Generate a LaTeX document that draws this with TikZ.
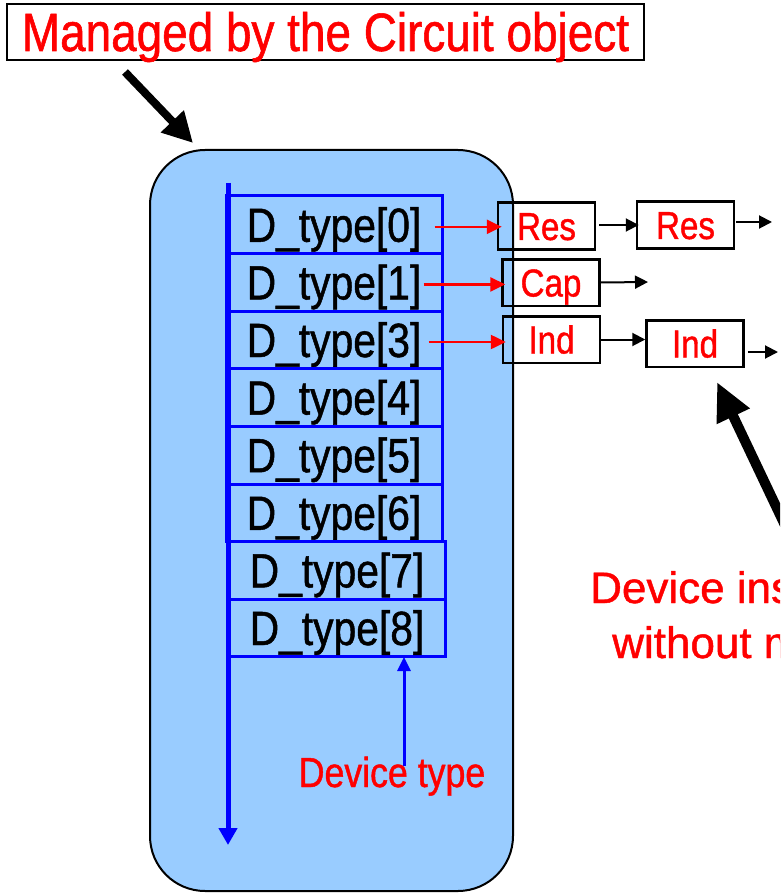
\documentclass[tikz,border=0pt]{standalone}
\usepackage{fontspec}
\setmainfont{Liberation Sans}[FakeStretch=0.85, FakeBold=1]
\newfontfamily\widefont{Liberation Sans}[FakeBold=1]
\usetikzlibrary{arrows.meta,calc}

\definecolor{panelblue}{HTML}{99CCFF}
\definecolor{pureblue}{HTML}{0000FF}
\definecolor{purered}{HTML}{FF0000}

\tikzset{
  dtype/.style={draw=pureblue, line width=3pt, minimum width=216pt, minimum height=57.6pt,
    inner sep=0pt, text height=34pt, text depth=0pt, font=\fontsize{48}{50}\selectfont},
  devbox/.style={draw=black, line width=2.5pt, minimum width=97pt, minimum height=46.5pt,
    inner sep=0pt, text=purered, text height=28pt, text depth=0pt, font=\fontsize{39}{40}\selectfont},
  redtext/.style={text=purered, inner sep=0pt},
  redarrow/.style={draw=purered, line width=2.5pt, -{Triangle[length=15pt,width=14pt]}},
  listarrow/.style={draw=black, line width=2pt, -{Triangle[length=13pt,width=13pt]}},
  bigarrow/.style={draw=black, line width=8pt, -{Triangle[length=30pt,width=30pt]}},
  bluearrow/.style={draw=pureblue, line width=3pt, -{Triangle[length=14pt,width=13pt]}}
}

\begin{document}
\begin{tikzpicture}[x=1pt, y=-1pt]
    \clip (0,0) rectangle (780,893);

    % title and its pointer
    \node[draw=black, line width=2pt, minimum width=637pt, minimum height=56pt, inner sep=0pt,
      text=purered, text height=38pt, text depth=0pt, font=\fontsize{54}{56}\selectfont]
      (title) at (325.5,32) {Managed by the Circuit object};
    \coordinate (tailA) at (125,72);
    \coordinate (tipA) at (193,143);
    \draw[bigarrow] (tailA) -- (tipA);

    % circuit object
    \node[draw=black, fill=panelblue, line width=2pt, rounded corners=55pt,
      minimum width=363pt, minimum height=741pt] (circuit) at (331.5,520.5) {};

    % device type table
    \node[dtype] (dt0) at (334,224.8) {D\_type[0]};
    \node[dtype] (dt1) at (334,282.4) {D\_type[1]};
    \node[dtype] (dt3) at (334,340.0) {D\_type[3]};
    \node[dtype] (dt4) at (334,397.6) {D\_type[4]};
    \node[dtype] (dt5) at (334,455.2) {D\_type[5]};
    \node[dtype] (dt6) at (334,512.8) {D\_type[6]};
    \node[dtype] (dt7) at (337,570.4) {D\_type[7]};
    \node[dtype] (dt8) at (337,628.0) {D\_type[8]};

    \coordinate (listtop) at (228,183);
    \coordinate (listend) at (228,845);
    \draw[pureblue, line width=5pt, -{Triangle[length=17pt,width=18pt]}] (listtop) -- (listend);

    % device lists
    \node[devbox] (res1) at (546.5,226) {Res};
    \node[devbox] (res2) at (685.5,225) {Res};
    \node[devbox] (cap)  at (551,282.5) {Cap};
    \node[devbox] (ind1) at (551.5,339.5) {Ind};
    \node[devbox] (ind2) at (695,343.5) {Ind};

    \draw[redarrow] ($(dt0.east)+(-9,2)$) -- ([xshift=5pt]res1.west |- 0,226.8);
    \draw[redarrow] ($(dt1.east)+(-20,2)$) -- ([xshift=4pt]cap.west |- 0,284.4);
    \draw[redarrow] ($(dt3.east)+(-15,2)$) -- ([xshift=4pt]ind1.west |- 0,342);

    \coordinate (resnil) at (772,222);
    \coordinate (capnil) at (648,282);
    \coordinate (indnil) at (778,352);
    \draw[listarrow] ([xshift=3pt]res1.east |- res2.west) -- ([xshift=3pt]res2.west);
    \draw[listarrow] ([xshift=1pt]res2.east |- resnil) -- (resnil);
    \draw[listarrow] (cap.east) -- (capnil);
    \draw[listarrow] (ind1.east) -- (ind1.east -| ind2.west);
    \draw[listarrow] ([xshift=3pt]ind2.east |- indnil) -- (indnil);

    % labels
    \node[redtext, anchor=base, font=\fontsize{42}{44}\selectfont] (devtype) at (392,787) {Device type};
    \coordinate (typetip) at (404,657);
    \draw[bluearrow] ([yshift=-10pt]devtype.north -| typetip) -- (typetip);

    \node[redtext, anchor=base west, font=\widefont\fontsize{44}{46}\selectfont] (inst1) at (590,603) {Device ins};
    \node[redtext, anchor=base west, font=\widefont\fontsize{44}{46}\selectfont] (inst2) at (612,658) {without m};
    \coordinate (tailB) at (792,540);
    \coordinate (tipB) at (717,382);
    \draw[bigarrow, line width=10pt, -{Triangle[length=38pt,width=34pt]}] (tailB) -- (tipB);

\end{tikzpicture}
\end{document}
